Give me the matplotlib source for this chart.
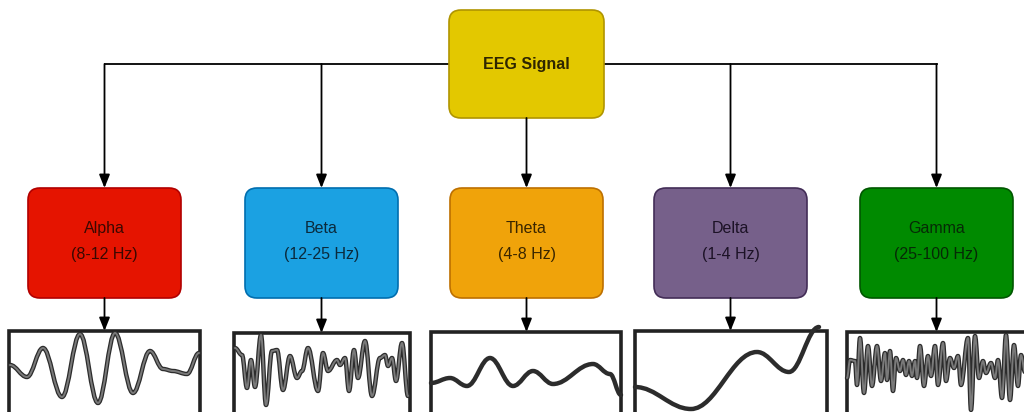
import matplotlib.pyplot as plt
from matplotlib.patches import FancyBboxPatch, Rectangle, PathPatch
from matplotlib.path import Path

plt.rcParams['font.family'] = ['Liberation Sans', 'DejaVu Sans']

# band boxes
bands = ["Alpha", "Beta", "Theta", "Delta", "Gamma"]
ranges = ["(8-12 Hz)", "(12-25 Hz)", "(4-8 Hz)", "(1-4 Hz)", "(25-100 Hz)"]
fills = ["#e51400", "#1ba1e2", "#f0a30a", "#76608a", "#008a00"]
edges = ["#b20000", "#006eaf", "#bd7000", "#432d57", "#005700"]
text_colors = ["#3a0800", "#0b2a3c", "#3a2600", "#1c1226", "#062a06"]
box_left = [28, 245, 450, 654, 860]

# waveform panels: left edge and width (px)
wave_left = [9, 234, 431, 635, 847]
wave_width = [191, 176, 190, 192, 190]
wave_top = [331, 333, 332, 331, 332]

# waveform extrema (offset from panel corner, px)
alpha_x = [1, 18, 34, 53, 71, 89, 106, 124, 141, 154, 164, 178, 190]
alpha_y = [34, 46, 17, 66, 3, 72, 2, 62, 20, 38, 40, 43, 22]

beta_x = [1, 8, 13, 17, 21, 27, 32, 38, 43, 49, 56, 63, 68, 74, 84, 89, 94,
          103, 106, 111, 115, 120, 124, 131, 138, 146, 151, 154, 158, 162, 168, 174]
beta_y = [15, 22, 55, 27, 54, 2, 72, 18, 17, 57, 23, 45, 38, 15, 58, 20, 38,
          27, 32, 25, 58, 17, 45, 8, 63, 25, 22, 33, 25, 48, 10, 63]

theta_x = [0, 19, 36, 59, 82, 102, 122, 162, 179, 190]
theta_y = [51, 46, 54, 26, 54, 39, 52, 32, 42, 63]

delta_x = [0, 56, 122, 154, 184]
delta_y = [56, 78, 21, 41, -4]

gamma_x = [0, 3, 8, 10, 13, 17, 21, 25, 30, 34, 38, 40, 43, 46, 49, 53, 56, 59,
           62, 65, 68, 70, 73, 77, 81, 84, 88, 91, 96, 99, 103, 107, 111, 114,
           121, 124, 128, 132, 136, 139, 144, 148, 151, 155, 159, 163, 167, 171, 174, 178]
gamma_y = [46, 28, 29, 53, 6, 61, 14, 54, 14, 49, 21, 48, 19, 59, 26, 39, 28, 43,
           29, 44, 29, 46, 14, 54, 24, 44, 14, 53, 11, 49, 26, 36, 24, 53,
           6, 78, 4, 46, 29, 41, 31, 46, 28, 66, 3, 68, 13, 54, 23, 40]

waves = [(alpha_x, alpha_y), (beta_x, beta_y), (theta_x, theta_y),
         (delta_x, delta_y), (gamma_x, gamma_y)]


def smooth_path(xs, ys, x0, y0, k=0.38):
    """Bezier path through extrema with flat tangents."""
    verts = [(x0 + xs[0], y0 + ys[0])]
    codes = [Path.MOVETO]
    for i in range(1, len(xs)):
        xa, ya = x0 + xs[i - 1], y0 + ys[i - 1]
        xb, yb = x0 + xs[i], y0 + ys[i]
        dx = xb - xa
        verts += [(xa + k * dx, ya), (xb - k * dx, yb), (xb, yb)]
        codes += [Path.CURVE4] * 3
    return Path(verts, codes)


fig = plt.figure(figsize=(10.24, 4.12), dpi=100)
ax = fig.add_axes([0, 0, 1, 1])
ax.set_xlim(0, 1024)
ax.set_ylim(412, 0)
ax.axis('off')

box_w, box_top, box_bot = 153, 188, 298
top_x, top_y, top_w, top_h = 449, 10, 155, 108
arrow = "-|>,head_length=0.8,head_width=0.32"

# connectors from the root box
centers = [l + box_w / 2 for l in box_left]
ax.plot([centers[0], centers[-1]], [64, 64], color="black", lw=1.3, zorder=1)
for i, cx in enumerate(centers):
    start = top_y + top_h if i == 2 else 64
    ax.annotate("", xy=(cx, box_top), xytext=(cx, start),
                arrowprops=dict(arrowstyle=arrow, color="black", lw=1.3,
                                shrinkA=0, shrinkB=0))
    ax.annotate("", xy=(cx, wave_top[i]), xytext=(cx, box_bot),
                arrowprops=dict(arrowstyle=arrow, color="black", lw=1.3,
                                shrinkA=0, shrinkB=0))

# root box
ax.add_patch(FancyBboxPatch((top_x, top_y), top_w, top_h,
                            boxstyle="round,pad=0,rounding_size=12",
                            fc="#e3c800", ec="#b09500", lw=1.2, zorder=2))
ax.text(top_x + top_w / 2, top_y + top_h / 2, "EEG Signal", ha="center",
        va="center", fontsize=11.5, fontweight="bold", color="#2e2600", zorder=3)

# band boxes
for i, name in enumerate(bands):
    ax.add_patch(FancyBboxPatch((box_left[i], box_top), box_w, box_bot - box_top,
                                boxstyle="round,pad=0,rounding_size=12",
                                fc=fills[i], ec=edges[i], lw=1.2, zorder=2))
    ax.text(centers[i], 228, name, ha="center", va="center", fontsize=11.5,
            color=text_colors[i], zorder=3)
    ax.text(centers[i], 255, ranges[i], ha="center", va="center", fontsize=11.5,
            color=text_colors[i], zorder=3)

# waveform panels
for i, (wx, wy) in enumerate(waves):
    left, top, w = wave_left[i], wave_top[i], wave_width[i]
    frame = Rectangle((left, top), w, 100, fc="white", ec="#222222", lw=2.6, zorder=4)
    ax.add_patch(frame)
    clip = Rectangle((left, top), w, 100, transform=ax.transData)
    path = smooth_path(wx, wy, left, top)
    outer = PathPatch(path, fc="none", ec="#2c2c2c", lw=3.2, zorder=5,
                      capstyle="round", joinstyle="round")
    outer.set_clip_path(clip)
    ax.add_patch(outer)
    if i in (0, 1, 4):
        inner = PathPatch(path, fc="none", ec="#7a7a7a", lw=1.4, zorder=6,
                          capstyle="round", joinstyle="round")
        inner.set_clip_path(clip)
        ax.add_patch(inner)

fig.savefig("out.png", dpi=100)
